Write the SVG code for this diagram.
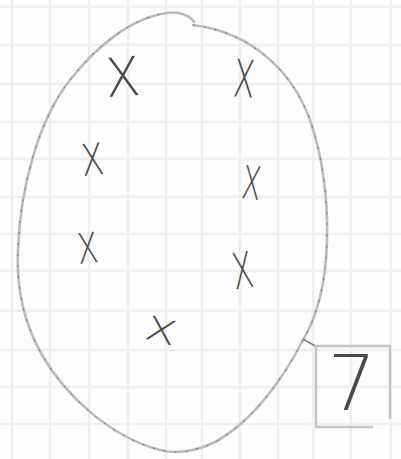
<svg xmlns="http://www.w3.org/2000/svg" width="401" height="459" viewBox="0 0 401 459">
  <style>
    .grid line { stroke: #efefef; stroke-width: 2.5; }
    .oval { fill: none; stroke: #bcbcbc; stroke-width: 2.6; stroke-linecap: round; }
    .ovaldots { fill: none; stroke: #707070; stroke-width: 1; stroke-dasharray: 2 9; }
    .box { fill: none; stroke: #c4c4c4; stroke-width: 2.5; stroke-linecap: round; }
    .mark { font-family: "DejaVu Sans", "Liberation Sans", sans-serif; font-weight: 200; fill: #4a4a4a; text-anchor: middle; }
    .conn { stroke: #808080; stroke-width: 1.5; fill: none; }
  </style>
  <rect width="401" height="459" fill="#fdfdfd"/>
  <g class="grid">
    <line x1="12" y1="0" x2="12" y2="459"/>
    <line x1="50" y1="0" x2="50" y2="459"/>
    <line x1="89" y1="0" x2="89" y2="459"/>
    <line x1="128" y1="0" x2="128" y2="459"/>
    <line x1="166" y1="0" x2="166" y2="459"/>
    <line x1="202" y1="0" x2="202" y2="459"/>
    <line x1="240" y1="0" x2="240" y2="459"/>
    <line x1="278" y1="0" x2="278" y2="459"/>
    <line x1="313" y1="0" x2="313" y2="459"/>
    <line x1="351" y1="0" x2="351" y2="459"/>
    <line x1="391" y1="0" x2="391" y2="459"/>
    <line x1="0" y1="7" x2="401" y2="7"/>
    <line x1="0" y1="45" x2="401" y2="45"/>
    <line x1="0" y1="84" x2="401" y2="84"/>
    <line x1="0" y1="122" x2="401" y2="122"/>
    <line x1="0" y1="159" x2="401" y2="159"/>
    <line x1="0" y1="197" x2="401" y2="197"/>
    <line x1="0" y1="234" x2="401" y2="234"/>
    <line x1="0" y1="271" x2="401" y2="271"/>
    <line x1="0" y1="311" x2="401" y2="311"/>
    <line x1="0" y1="350" x2="401" y2="350"/>
    <line x1="0" y1="387" x2="401" y2="387"/>
    <line x1="0" y1="424" x2="401" y2="424"/>
  </g>
  <g id="set">
    <path class="oval" d="M 193,25 C 250,32 292,70 310,120 C 322,155 328,195 327,240 C 326,280 318,315 303,340 C 285,375 255,420 215,442 C 195,452 175,454 160,450 C 110,437 65,395 42,355 C 25,325 16,290 18,250 C 20,190 38,120 70,80 C 95,48 130,18 167,13 C 180,11 190,16 194,22"/>
    <path class="ovaldots" d="M 193,25 C 250,32 292,70 310,120 C 322,155 328,195 327,240 C 326,280 318,315 303,340 C 285,375 255,420 215,442 C 195,452 175,454 160,450 C 110,437 65,395 42,355 C 25,325 16,290 18,250 C 20,190 38,120 70,80 C 95,48 130,18 167,13"/>
  </g>
  <g id="x1"><text class="mark" transform="translate(124,96) rotate(-4) scale(0.95,1)" font-size="54">X</text></g>
  <g id="x2"><text class="mark" transform="translate(243,97) rotate(4) scale(0.6,1)" font-size="52">X</text></g>
  <g id="x3"><text class="mark" transform="translate(94,175) rotate(-6) scale(0.75,1)" font-size="44">X</text></g>
  <g id="x4"><text class="mark" transform="translate(250,199) rotate(6) scale(0.6,1)" font-size="46">X</text></g>
  <g id="x5"><text class="mark" transform="translate(89,263) rotate(-6) scale(0.72,1)" font-size="42">X</text></g>
  <g id="x6"><text class="mark" transform="translate(245,288) rotate(-8) scale(0.6,1)" font-size="50">X</text></g>
  <g id="x7"><text class="mark" transform="translate(158,342) rotate(14) scale(1.1,0.8)" font-size="42">X</text></g>
  <g id="connectors">
    <line class="conn" x1="303" y1="339" x2="317" y2="347"/>
  </g>
  <g id="box7">
    <path class="box" d="M 372,427 L 316,427 L 316,346 L 390,346 L 390,418"/>
    <text class="mark" x="352" y="410" font-size="76">7</text>
  </g>
</svg>
